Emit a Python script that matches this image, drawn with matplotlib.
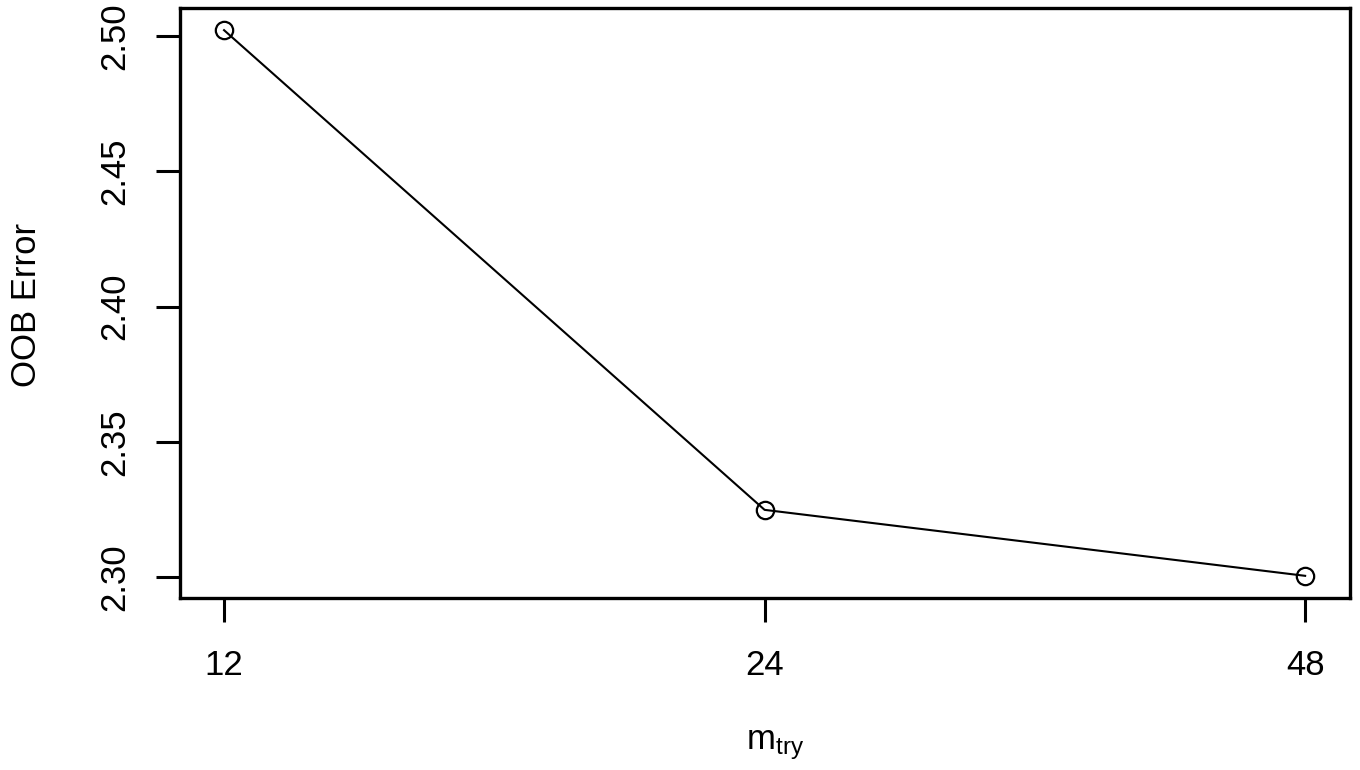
import numpy as np
import matplotlib
matplotlib.use('Agg')
import matplotlib.pyplot as plt

plt.rcParams['font.family'] = ['Liberation Sans', 'DejaVu Sans']
plt.rcParams['mathtext.fontset'] = 'custom'
plt.rcParams['mathtext.rm'] = 'Liberation Sans'
plt.rcParams['mathtext.it'] = 'Liberation Sans'

# values
mtry = ['12', '24', '48']
oob_error = [2.5022, 2.3248, 2.3004]

fig = plt.figure(figsize=(13.6, 7.7), dpi=100)
ax = fig.add_axes([180/1360, 1 - 598/770, 1170/1360, 590/770])

xs = np.arange(1, len(mtry) + 1)
ax.plot(xs, oob_error, color='k', lw=1.5, marker='o', markersize=12.5,
        markerfacecolor='none', markeredgewidth=1.6)

ax.set_xlim(0.9185, 3.083)
ax.set_ylim(2.2922, 2.5104)
ax.set_xticks(xs)
ax.set_xticklabels(mtry)
ax.set_yticks([2.30, 2.35, 2.40, 2.45, 2.50])
ax.set_yticklabels(['2.30', '2.35', '2.40', '2.45', '2.50'], rotation=90, va='center')

for s in ax.spines.values():
    s.set_linewidth(2.4)
ax.tick_params(axis='both', direction='out', length=17, width=2.2, labelsize=25)
ax.tick_params(axis='x', pad=20)
ax.tick_params(axis='y', pad=18)

fig.text(775/1360, 1 - 745/770, r'$\mathregular{m_{try}}$', fontsize=25,
         ha='center', va='center')
fig.text(27/1360, 1 - 305/770, 'OOB Error', fontsize=25, rotation=90,
         ha='center', va='center')

fig.savefig('out.png', dpi=100)
